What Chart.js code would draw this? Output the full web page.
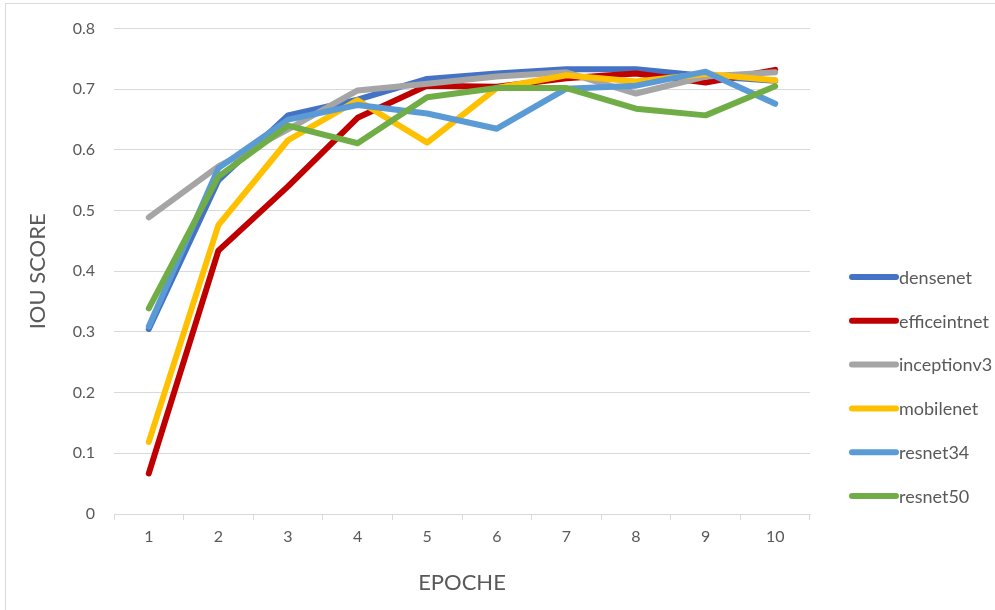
<!DOCTYPE html>
<html>
<head>
<meta charset="utf-8">
<script src="https://cdn.jsdelivr.net/npm/chart.js@4.4.1/dist/chart.umd.min.js"></script>
<style>
  html, body { margin: 0; padding: 0; background: #ffffff; }
  #wrap { width: 995px; height: 610px; position: relative; }
</style>
</head>
<body>
<div id="wrap"><canvas id="c" width="995" height="610"></canvas></div>
<script>
// Epochs on the x axis
const epochs = ['1', '2', '3', '4', '5', '6', '7', '8', '9', '10'];

// IoU score per epoch for each backbone
const densenet     = [0.305, 0.550, 0.657, 0.683, 0.717, 0.726, 0.733, 0.733, 0.722, 0.714];
const efficeintnet = [0.067, 0.434, 0.540, 0.653, 0.706, 0.704, 0.718, 0.726, 0.711, 0.732];
const inceptionv3  = [0.489, 0.573, 0.634, 0.698, 0.709, 0.721, 0.728, 0.693, 0.721, 0.728];
const mobilenet    = [0.119, 0.476, 0.616, 0.682, 0.612, 0.702, 0.723, 0.713, 0.725, 0.715];
const resnet34     = [0.309, 0.570, 0.650, 0.674, 0.660, 0.635, 0.701, 0.706, 0.729, 0.676];
const resnet50     = [0.339, 0.556, 0.640, 0.611, 0.687, 0.702, 0.702, 0.668, 0.657, 0.705];

const seriesNames  = ['densenet', 'efficeintnet', 'inceptionv3', 'mobilenet', 'resnet34', 'resnet50'];
const seriesValues = [densenet, efficeintnet, inceptionv3, mobilenet, resnet34, resnet50];
const seriesColors = ['#4472C4', '#C00000', '#A5A5A5', '#FFC000', '#5B9BD5', '#70AD47'];

const FONT = 'Lato, "Open Sans", sans-serif';
const TEXT = '#595959';
const GRID = '#d9d9d9';

// Outer frame and white background
const framePlugin = {
  id: 'frame',
  beforeDraw(chart) {
    const ctx = chart.ctx;
    ctx.save();
    ctx.fillStyle = '#ffffff';
    ctx.fillRect(0, 0, chart.width, chart.height);
    ctx.strokeStyle = GRID;
    ctx.lineWidth = 1;
    ctx.strokeRect(5.5, 3.5, chart.width + 10, chart.height + 10);
    ctx.restore();
  }
};

// Legend drawn as a vertical list of line swatches to the right of the plot
const sideLegend = {
  id: 'sideLegend',
  afterDraw(chart) {
    const ctx = chart.ctx;
    const x0 = 852, x1 = 896, tx = 899;
    const yTop = 277, step = 43.8;
    ctx.save();
    ctx.font = '18px ' + FONT;
    ctx.textBaseline = 'middle';
    ctx.textAlign = 'left';
    chart.data.datasets.forEach((ds, i) => {
      const y = yTop + i * step;
      ctx.strokeStyle = ds.borderColor;
      ctx.lineWidth = 6;
      ctx.lineCap = 'round';
      ctx.beginPath();
      ctx.moveTo(x0, y);
      ctx.lineTo(x1, y);
      ctx.stroke();
      ctx.fillStyle = TEXT;
      ctx.fillText(ds.label, tx, y + 1);
    });
    ctx.restore();
  }
};

new Chart(document.getElementById('c'), {
  type: 'line',
  data: {
    labels: epochs,
    datasets: seriesNames.map((name, i) => ({
      label: name,
      data: seriesValues[i],
      borderColor: seriesColors[i],
      backgroundColor: seriesColors[i],
      borderWidth: 6,
      borderCapStyle: 'round',
      borderJoinStyle: 'round',
      pointRadius: 0,
      pointHoverRadius: 0,
      tension: 0,
      fill: false,
      order: seriesNames.length - i
    }))
  },
  options: {
    responsive: false,
    animation: false,
    devicePixelRatio: 1,
    layout: { padding: { top: 28, right: 185, bottom: 0, left: 20 } },
    plugins: {
      legend: { display: false },
      tooltip: { enabled: false }
    },
    scales: {
      x: {
        offset: true,
        grid: {
          offset: true,
          drawOnChartArea: false,
          drawTicks: true,
          tickLength: 6,
          color: GRID
        },
        border: { display: true, color: GRID, width: 1 },
        ticks: {
          color: TEXT,
          font: { family: FONT, size: 16 },
          padding: 7,
          maxRotation: 0,
          autoSkip: false
        },
        title: {
          display: true,
          text: 'EPOCHE',
          color: TEXT,
          font: { family: FONT, size: 22 },
          padding: { top: 0, bottom: 14 }
        },
        afterFit(scale) { scale.height = 96; }
      },
      y: {
        min: 0,
        max: 0.8,
        ticks: {
          stepSize: 0.1,
          color: TEXT,
          font: { family: FONT, size: 16 },
          padding: 19
        },
        grid: {
          drawTicks: false,
          color: GRID,
          lineWidth: 1
        },
        border: { display: false },
        title: {
          display: true,
          text: 'IOU SCORE',
          color: TEXT,
          font: { family: FONT, size: 22 },
          padding: { top: 5, bottom: 0 }
        },
        afterFit(scale) { scale.width = 94; }
      }
    }
  },
  plugins: [framePlugin, sideLegend]
});
</script>
</body>
</html>
